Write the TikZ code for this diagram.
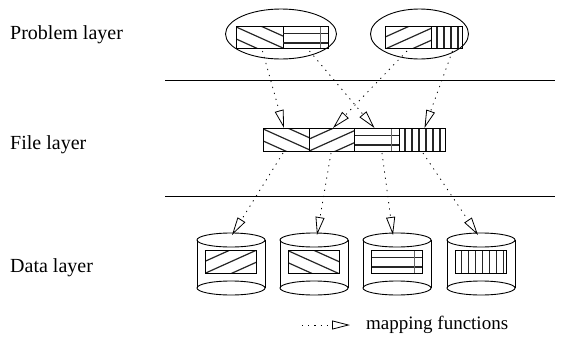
\documentclass[tikz,border=0pt]{standalone}
\usepackage{fontspec}
\setmainfont{Liberation Serif}
\usetikzlibrary{arrows.meta,shapes.geometric}
\newcommand{\hatchback}[1]{%
  \begin{scope}
    \clip (#1.north west) rectangle (#1.south east);
    \foreach \k in {-3,...,2}
      \draw[hatch] ([shift={(-2,\k*12)}]#1.north west) -- ++(60,27);
  \end{scope}}
\newcommand{\hatchfwd}[1]{%
  \begin{scope}
    \clip (#1.north west) rectangle (#1.south east);
    \foreach \k in {-1,...,4}
      \draw[hatch] ([shift={(-2,\k*12)}]#1.north west) -- ++(60,-27);
  \end{scope}}
\newcommand{\hatchhor}[1]{%
  \begin{scope}
    \clip (#1.north west) rectangle (#1.south east);
    \draw[hatch] ([yshift=-7.5pt]#1.north west) -- ([yshift=-7.5pt]#1.north east);
    \draw[hatch] ([yshift=-17pt]#1.north west) -- ([yshift=-17pt]#1.north east);
    \draw[black!60,line width=0.5pt] ([xshift=-8pt]#1.north east) -- ([xshift=-8pt]#1.south east);
  \end{scope}}
\newcommand{\hatchver}[1]{%
  \begin{scope}
    \clip (#1.north west) rectangle (#1.south east);
    \foreach \k in {1,...,8}
      \draw[hatch] ([xshift=\k*7pt-1pt]#1.north west) -- ([xshift=\k*7pt-1pt]#1.south west);
  \end{scope}}
\newcommand{\drawcyl}[2]{%
  \draw[thin line] (#2,240) ellipse [x radius=34pt, y radius=7pt];
  \draw[thin line] (#2,288) ellipse [x radius=34pt, y radius=7pt];
  \draw[thin line] (#2-34,240) -- (#2-34,288) (#2+34,240) -- (#2+34,288);
  \node[box, minimum width=51pt, minimum height=23pt] (#1) at (#2,261.5) {};}
\begin{document}
\begin{tikzpicture}[x=1pt,y=-1pt,
  thin line/.style={line width=0.9pt},
  box/.style={draw, line width=0.9pt, inner sep=0pt, outer sep=0pt},
  hatch/.style={line width=1.2pt, black!85},
  map/.style={line width=0.8pt, dash pattern=on 1.2pt off 5pt,
    -{Triangle[open, length=18pt, width=9pt, line width=0.8pt]}},
  lab/.style={anchor=west, font=\fontsize{20}{24}\selectfont, inner sep=0pt}]
\useasboundingbox (0,0) rectangle (563,346);
% layer labels
\node[lab] (lp) at (10,35) {Problem layer};
\node[lab] (lf) at (10,145) {File layer};
\node[lab] (ld) at (10,268) {Data layer};
% separators
\coordinate (l1a) at (165,80); \coordinate (l1b) at (555,80);
\coordinate (l2a) at (165,196); \coordinate (l2b) at (555,196);
\draw[thin line] (l1a) -- (l1b);
\draw[thin line] (l2a) -- (l2b);
% problem layer
\node[draw, thin line, ellipse, minimum width=111pt, minimum height=50pt, inner sep=0pt] (e1) at (281,34) {};
\node[draw, thin line, ellipse, minimum width=98pt, minimum height=50pt, inner sep=0pt] (e2) at (419.5,34) {};
\node[box, minimum width=47pt, minimum height=22pt] (p1) at (259.5,37) {};
\node[box, minimum width=45pt, minimum height=22pt] (p2) at (305.5,37) {};
\node[box, minimum width=46pt, minimum height=22pt] (p3) at (408,37) {};
\node[box, minimum width=31pt, minimum height=22pt] (p4) at (446.5,37) {};
\hatchback{p1}\hatchhor{p2}\hatchfwd{p3}\hatchver{p4}
\draw[box] (p1.north west) rectangle (p2.south east);
\draw[box] (p3.north west) rectangle (p4.south east);
% file layer
\node[box, minimum width=46pt, minimum height=23pt] (f1) at (286,139.5) {};
\node[box, minimum width=45pt, minimum height=23pt] (f2) at (331.5,139.5) {};
\node[box, minimum width=45pt, minimum height=23pt] (f3) at (376.5,139.5) {};
\node[box, minimum width=46pt, minimum height=23pt] (f4) at (422,139.5) {};
\hatchback{f1}\hatchfwd{f2}\hatchhor{f3}\hatchver{f4}
\draw[box] (f1.north west) rectangle (f4.south east);
\foreach \n in {f1,f2,f3} \draw[thin line] (\n.north east) -- (\n.south east);
% data layer
\drawcyl{d1}{231}
\drawcyl{d2}{314}
\drawcyl{d3}{397}
\drawcyl{d4}{481}
\hatchfwd{d1}\hatchback{d2}\hatchhor{d3}\hatchver{d4}
\foreach \n in {d1,d2,d3,d4} \draw[box] (\n.north west) rectangle (\n.south east);
% cylinder tops
\coordinate (t1) at (232,235);
\coordinate (t2) at (317,235);
\coordinate (t3) at (393,235);
\coordinate (t4) at (478,235);
% mappings problem -> file
\draw[map] ([shift={(3,3)}]p1.south) -- ([xshift=-2pt]f1.north);
\draw[map] ([shift={(4,3)}]p2.south) -- ([xshift=-2pt]f3.north);
\draw[map] ([shift={(-1,3)}]p3.south) -- ([xshift=1.5pt]f2.north);
\draw[map] ([shift={(6,3)}]p4.south) -- ([xshift=2.5pt]f4.north);
% mappings file -> data
\draw[map] ([shift={(-3,2)}]f1.south) -- (t1);
\draw[map] ([shift={(-0.5,2)}]f2.south) -- (t2);
\draw[map] ([shift={(5.5,2)}]f3.south) -- (t3);
\draw[map] ([shift={(1,2)}]f4.south) -- (t4);
% legend
\coordinate (la) at (302,325);
\coordinate (lb) at (350,325);
\draw[map] (la) -- (lb);
\node[lab, font=\fontsize{19}{23}\selectfont] (lt) at (366,325) {mapping functions};
\end{tikzpicture}
\end{document}
